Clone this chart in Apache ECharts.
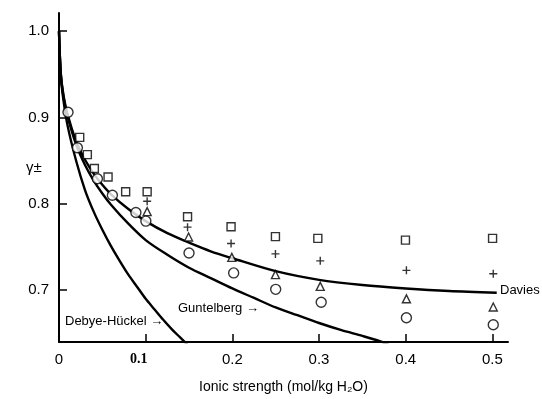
<!DOCTYPE html>
<html>
<head>
<meta charset="utf-8">
<script src="https://cdn.jsdelivr.net/npm/echarts@6/dist/echarts.min.js"></script>
<style>
  html, body { margin: 0; padding: 0; background: #fff; }
  #chart { width: 542px; height: 399px; }
</style>
</head>
<body>
<div id="chart"></div>
<script>
// curves (ionic strength, gamma)
const dhI = [0, 0.002, 0.005, 0.01, 0.02, 0.03, 0.04, 0.05, 0.06, 0.07, 0.08, 0.09, 0.1, 0.11, 0.12, 0.13, 0.14, 0.15]
const dhGamma = [1.0, 0.949, 0.921, 0.89, 0.849, 0.816, 0.791, 0.77, 0.751, 0.734, 0.718, 0.704, 0.69, 0.678, 0.666, 0.655, 0.645, 0.635]

const gunI = [0, 0.002, 0.005, 0.01, 0.02, 0.03, 0.04, 0.05, 0.06, 0.08, 0.1, 0.125, 0.15, 0.175, 0.2, 0.225, 0.25, 0.275, 0.3, 0.325, 0.35, 0.37, 0.38]
const gunGamma = [1.0, 0.951, 0.925, 0.901, 0.868, 0.845, 0.827, 0.812, 0.799, 0.777, 0.758, 0.741, 0.726, 0.714, 0.702, 0.691, 0.68, 0.671, 0.662, 0.654, 0.647, 0.641, 0.637]

const davI = [0, 0.002, 0.005, 0.01, 0.02, 0.03, 0.04, 0.05, 0.06, 0.08, 0.1, 0.125, 0.15, 0.175, 0.2, 0.25, 0.3, 0.35, 0.4, 0.45, 0.505]
const davGamma = [1.0, 0.952, 0.927, 0.903, 0.872, 0.851, 0.835, 0.822, 0.811, 0.794, 0.78, 0.766, 0.755, 0.745, 0.737, 0.722, 0.712, 0.706, 0.702, 0.699, 0.697]

// measured points
const circleI = [0.0104, 0.0212, 0.0443, 0.0616, 0.0887, 0.1002, 0.15, 0.2015, 0.25, 0.3025, 0.4008, 0.501]
const circleGamma = [0.906, 0.865, 0.829, 0.81, 0.79, 0.78, 0.743, 0.72, 0.701, 0.686, 0.668, 0.66]

const squareI = [0.0239, 0.0327, 0.0408, 0.0566, 0.0769, 0.1017, 0.1483, 0.1985, 0.2497, 0.2986, 0.3997, 0.5002]
const squareGamma = [0.877, 0.857, 0.841, 0.831, 0.814, 0.814, 0.785, 0.7735, 0.762, 0.76, 0.758, 0.76]

const plusI = [0.1017, 0.1483, 0.1985, 0.2497, 0.3014, 0.4008, 0.501]
const plusGamma = [0.803, 0.773, 0.754, 0.742, 0.734, 0.723, 0.719]

const triI = [0.1017, 0.1495, 0.1994, 0.2497, 0.3014, 0.4008, 0.501]
const triGamma = [0.791, 0.7616, 0.738, 0.718, 0.7044, 0.69, 0.6806]

const xTicks = [0, 0.1, 0.2, 0.3, 0.4, 0.5]
const yTicks = [0.7, 0.8, 0.9, 1.0]

const font = 'Liberation Sans, Arial, DejaVu Sans, sans-serif'
const pair = (xs, ys) => xs.map((v, i) => [v, ys[i]])

const curve = (name, xs, ys) => ({
  name: name,
  type: 'line',
  data: pair(xs, ys),
  smooth: 0.3,
  showSymbol: false,
  clip: true,
  lineStyle: { color: '#000', width: 2.4 },
  z: 2,
})

const marks = (name, xs, ys, symbol, size, fill) => ({
  name: name,
  type: 'scatter',
  data: pair(xs, ys),
  symbol: symbol,
  symbolSize: size,
  itemStyle: { color: fill, borderColor: '#000', borderWidth: 1.4 },
  z: 5,
})

const chart = echarts.init(document.getElementById('chart'))
chart.setOption({
  animation: false,
  backgroundColor: '#fff',
  grid: { left: 59, right: 34, top: 13, bottom: 56 },
  xAxis: {
    type: 'value',
    min: 0,
    max: 0.518,
    splitLine: { show: false },
    axisLine: { lineStyle: { color: '#000', width: 2 } },
    axisTick: { inside: true, length: 8, lineStyle: { color: '#000', width: 1.5 }, customValues: xTicks.slice(1) },
    axisLabel: {
      customValues: xTicks,
      color: '#000',
      fontFamily: font,
      fontSize: 15,
      margin: 10,
      formatter(v) {
        if (v === 0) return '0'
        const s = v.toFixed(1)
        return s === '0.1' ? '{b|0.1}' : s
      },
      rich: {
        b: { fontFamily: 'Liberation Serif, serif', fontWeight: 'bold', fontSize: 14, color: '#000', padding: [0, 14, 0, 0] },
      },
    },
    name: 'Ionic strength (mol/kg H\u2082O)',
    nameLocation: 'middle',
    nameGap: 38,
    nameTextStyle: { color: '#000', fontFamily: font, fontSize: 14 },
  },
  yAxis: {
    type: 'value',
    min: 0.64,
    max: 1.021,
    splitLine: { show: false },
    axisLine: { lineStyle: { color: '#000', width: 2 } },
    axisTick: { inside: true, length: 8, lineStyle: { color: '#000', width: 1.5 }, customValues: yTicks },
    axisLabel: {
      customValues: yTicks,
      color: '#000',
      fontFamily: font,
      fontSize: 15,
      margin: 10,
      formatter(v) { return v.toFixed(1) },
    },
  },
  graphic: [
    { type: 'text', left: 26, top: 160, style: { text: 'γ±', fontFamily: font, fontSize: 15, fill: '#000' } },
    { type: 'text', left: 65, top: 315, style: { text: 'Debye-Hückel →', fontFamily: font, fontSize: 13, fill: '#000' } },
    { type: 'text', left: 178, top: 302, style: { text: 'Guntelberg →', fontFamily: font, fontSize: 13, fill: '#000' } },
    { type: 'text', left: 500, top: 284, style: { text: 'Davies', fontFamily: font, fontSize: 13, fill: '#000' } },
  ],
  series: [
    curve('Debye-Hückel', dhI, dhGamma),
    curve('Guntelberg', gunI, gunGamma),
    curve('Davies', davI, davGamma),
    marks('square', squareI, squareGamma, 'rect', 8, '#fff'),
    marks('plus', plusI, plusGamma, 'path://M0,5L10,5M5,0L5,10', 8, 'transparent'),
    marks('triangle', triI, triGamma, 'triangle', 8, '#fff'),
    marks('circle', circleI, circleGamma, 'circle', 10, '#fff'),
  ],
})
</script>
</body>
</html>
